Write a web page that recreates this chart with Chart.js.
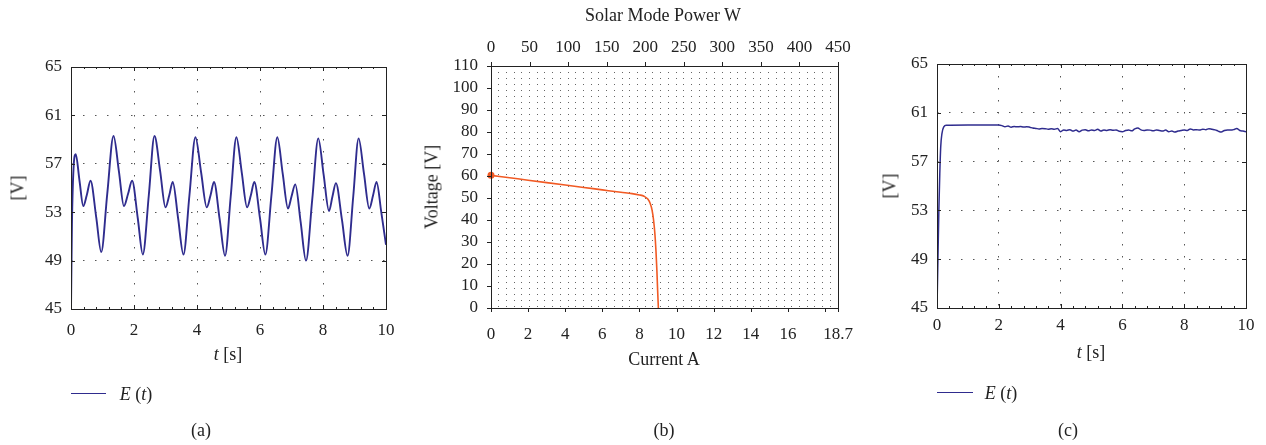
<!DOCTYPE html>
<html>
<head>
<meta charset="utf-8">
<script src="https://cdn.jsdelivr.net/npm/chart.js@4.4.1/dist/chart.umd.min.js"></script>
<style>
  body { margin: 0; background: #fff; }
  #page { position: relative; width: 1266px; height: 445px; overflow: hidden; font-family: 'Liberation Serif', serif; color: #222; }
  canvas { position: absolute; top: 0; }
  .txt { position: absolute; font-size: 18px; white-space: nowrap; transform: translate(-50%, -50%); }
  .rot { transform: translate(-50%, -50%) rotate(-90deg); }
  .key { position: absolute; height: 0; border-top: 1.5px solid #2f2c8e; }
</style>
</head>
<body>
<div id="page">
  <canvas id="chartA" width="420" height="445" style="left:0px"></canvas>
  <canvas id="chartB" width="450" height="445" style="left:410px"></canvas>
  <canvas id="chartC" width="406" height="445" style="left:860px"></canvas>

  <div class="txt rot" style="left:18px; top:188px">[V]</div>
  <div class="txt" style="left:228px; top:354px"><i>t</i> [s]</div>
  <div class="key" style="left:71px; top:393px; width:35px"></div>
  <div class="txt" style="left:136px; top:394px"><i>E</i> (<i>t</i>)</div>
  <div class="txt" style="left:201px; top:430px">(a)</div>

  <div class="txt" style="left:663px; top:15px">Solar Mode Power W</div>
  <div class="txt rot" style="left:432px; top:187px">Voltage [V]</div>
  <div class="txt" style="left:664px; top:359px">Current A</div>
  <div class="txt" style="left:664px; top:430px">(b)</div>

  <div class="txt rot" style="left:890px; top:186px">[V]</div>
  <div class="txt" style="left:1091px; top:352px"><i>t</i> [s]</div>
  <div class="key" style="left:937px; top:392px; width:36px"></div>
  <div class="txt" style="left:1001px; top:393px"><i>E</i> (<i>t</i>)</div>
  <div class="txt" style="left:1068px; top:430px">(c)</div>
</div>
<script>
// (a) E(t) with oscillation
const aTime = [0, 0.03, 0.08, 0.15, 0.27, 0.39, 0.5, 0.62, 0.8, 0.96, 1.15, 1.35, 1.52, 1.68, 1.81, 1.94,
  2.12, 2.28, 2.47, 2.65, 2.83, 3.0, 3.12, 3.23, 3.4, 3.57, 3.76, 3.95, 4.13, 4.31, 4.43, 4.54,
  4.72, 4.89, 5.07, 5.25, 5.42, 5.59, 5.71, 5.82, 6.0, 6.17, 6.36, 6.55, 6.72, 6.89, 7.0, 7.12,
  7.29, 7.46, 7.66, 7.85, 8.02, 8.19, 8.3, 8.41, 8.6, 8.78, 8.96, 9.13, 9.3, 9.47, 9.59, 9.7, 9.85, 10];
const aVolt = [45, 52, 56.6, 57.8, 55.6, 53.5, 54.4, 55.6, 52.6, 49.7, 54.5, 59.3, 56.4, 53.5, 54.5, 55.6,
  52.5, 49.5, 54.4, 59.3, 56.4, 53.4, 54.4, 55.5, 52.5, 49.5, 54.4, 59.2, 56.3, 53.4, 54.4, 55.5,
  52.4, 49.4, 54.3, 59.2, 56.3, 53.4, 54.4, 55.5, 52.5, 49.5, 54.3, 59.2, 56.2, 53.3, 54.3, 55.3,
  52.2, 49.0, 54.1, 59.1, 56.1, 53.1, 54.3, 55.4, 52.4, 49.4, 54.3, 59.1, 56.2, 53.3, 54.4, 55.5, 53.0, 50.3];
const aTicksX = [0, 2, 4, 6, 8, 10];
const aTicksY = [45, 49, 53, 57, 61, 65];

// (b) solar I-V curve
const bCurrent = [0, 1, 2, 3, 4, 5, 6, 7, 7.6, 8.0, 8.25, 8.45, 8.58, 8.68, 8.76, 8.83, 8.89, 8.94, 8.98, 9.02];
const bVoltage = [60.3, 59.2, 58.1, 57.0, 55.9, 54.8, 53.7, 52.6, 52.0, 51.4, 50.8, 49.5, 47.5, 44.5, 40, 34, 26, 17, 8, 0];
const bTicksX = [0, 2, 4, 6, 8, 10, 12, 14, 16, 18, 18.7];
const bTicksPower = [0, 50, 100, 150, 200, 250, 300, 350, 400, 450];
const bTicksY = [0, 10, 20, 30, 40, 50, 60, 70, 80, 90, 100, 110];

// (c) E(t) regulated
const cTime = [0, 0.03, 0.06, 0.09, 0.12, 0.16, 0.22, 0.3, 1.0, 2.0,
  2.1, 2.2, 2.3, 2.4, 2.5, 2.6, 2.7, 2.8, 2.9, 3.0, 3.1, 3.2, 3.3, 3.4, 3.5, 3.6, 3.7, 3.8, 3.9, 4.0,
  4.1, 4.2, 4.3, 4.4, 4.5, 4.6, 4.7, 4.8, 4.9, 5.0, 5.1, 5.2, 5.3, 5.4, 5.5, 5.6, 5.7, 5.8, 5.9, 6.0,
  6.1, 6.2, 6.3, 6.4, 6.5, 6.6, 6.7, 6.8, 6.9, 7.0, 7.1, 7.2, 7.3, 7.4, 7.5, 7.6, 7.7, 7.8, 7.9, 8.0,
  8.1, 8.2, 8.3, 8.4, 8.5, 8.6, 8.7, 8.8, 8.9, 9.0, 9.1, 9.2, 9.3, 9.4, 9.5, 9.6, 9.7, 9.8, 9.9, 10];
const cVolt = [45, 49, 53, 56, 58.2, 59.3, 59.85, 59.98, 60, 60,
  59.95, 59.85, 59.92, 59.82, 59.88, 59.85, 59.87, 59.83, 59.86, 59.82, 59.75, 59.72, 59.68, 59.72, 59.7, 59.66, 59.7, 59.65, 59.72, 59.45,
  59.6, 59.55, 59.62, 59.5, 59.58, 59.45, 59.58, 59.62, 59.52, 59.6, 59.55, 59.65, 59.5, 59.6, 59.55, 59.62, 59.56, 59.6, 59.48, 59.45,
  59.55, 59.6, 59.52, 59.68, 59.75, 59.6, 59.55, 59.6, 59.58, 59.52, 59.6, 59.55, 59.5, 59.58, 59.45, 59.5, 59.42, 59.5, 59.55, 59.6,
  59.55, 59.68, 59.6, 59.62, 59.58, 59.66, 59.62, 59.7, 59.65, 59.6, 59.5, 59.42, 59.55, 59.6, 59.58, 59.62, 59.72, 59.55, 59.5, 59.45];

const FONT = { family: 'Liberation Serif', size: 17 };
const INK = '#222';
const BLUE = '#2f2c8e';
const ORANGE = '#f15a24';

// box around the plot plus matlab style tick marks
const frame = {
  id: 'frame',
  afterDraw(chart, args, opts) {
    const { ctx, chartArea: a } = chart;
    ctx.save();
    ctx.strokeStyle = INK;
    ctx.lineWidth = 1;
    ctx.strokeRect(a.left + 0.5, a.top + 0.5, a.right - a.left, a.bottom - a.top);
    for (const m of opts.marks || []) {
      const s = chart.scales[m.scale];
      const d = m.out ? m.len : -m.len;
      for (const v of m.values) {
        const p = Math.round(s.getPixelForValue(v)) + 0.5;
        ctx.beginPath();
        for (const e of m.edges) {
          if (e === 'bottom') { ctx.moveTo(p, a.bottom); ctx.lineTo(p, a.bottom + d); }
          if (e === 'top') { ctx.moveTo(p, a.top); ctx.lineTo(p, a.top - d); }
          if (e === 'left') { ctx.moveTo(a.left, p); ctx.lineTo(a.left - d, p); }
          if (e === 'right') { ctx.moveTo(a.right, p); ctx.lineTo(a.right + d, p); }
        }
        ctx.stroke();
      }
    }
    ctx.restore();
  }
};

// fixed axis sizes so the plot boxes land where the figure has them
function fixW(w) { return s => { s.width = w; s.paddingTop = 0; s.paddingBottom = 0; }; }
function fixH(h) { return s => { s.height = h; s.paddingLeft = 0; s.paddingRight = 0; }; }
function pts(xs, ys) { return xs.map((x, i) => ({ x: x, y: ys[i] })); }

const minorT = [];
for (let i = 0; i <= 25; i++) minorT.push(i * 0.4);

function timeChart(id, xs, ys, yAxisW, pad, xPad, lw) {
  return new Chart(document.getElementById(id), {
    type: 'line',
    data: {
      datasets: [{
        data: pts(xs, ys),
        borderColor: BLUE,
        borderWidth: lw,
        pointRadius: 0,
        cubicInterpolationMode: 'monotone',
        fill: false
      }]
    },
    options: {
      responsive: false,
      animation: false,
      devicePixelRatio: 1,
      layout: { padding: pad },
      plugins: {
        legend: { display: false },
        tooltip: { enabled: false },
        frame: {
          marks: [
            { scale: 'x', values: aTicksX, len: 4, edges: ['bottom', 'top'] },
            { scale: 'x', values: minorT, len: 2, edges: ['bottom', 'top'] },
            { scale: 'y', values: aTicksY, len: 4, edges: ['left', 'right'] }
          ]
        }
      },
      scales: {
        x: {
          type: 'linear', min: 0, max: 10,
          afterFit: fixH(40),
          ticks: { stepSize: 2, font: FONT, color: INK, padding: xPad, maxRotation: 0 },
          grid: { color: '#555', drawTicks: false },
          border: { display: false, dash: [1.5, 10.5] }
        },
        y: {
          min: 45, max: 65,
          afterFit: fixW(yAxisW),
          ticks: { stepSize: 4, font: FONT, color: INK, padding: 9 },
          grid: { color: '#555', drawTicks: false },
          border: { display: false, dash: [1.5, 10.5] }
        }
      }
    },
    plugins: [frame]
  });
}

timeChart('chartA', aTime, aVolt, 71, { left: 0, right: 34, top: 67, bottom: 96 }, 11, 1.9);
timeChart('chartC', cTime, cVolt, 77, { left: 0, right: 20, top: 64, bottom: 97 }, 7, 1.5);

new Chart(document.getElementById('chartB'), {
  type: 'line',
  data: {
    datasets: [{
      data: pts(bCurrent, bVoltage),
      borderColor: ORANGE,
      backgroundColor: ORANGE,
      borderWidth: 1.6,
      pointRadius: c => c.dataIndex === 0 ? 3.5 : 0,
      pointBorderWidth: 0,
      cubicInterpolationMode: 'monotone',
      clip: false,
      fill: false
    }]
  },
  options: {
    responsive: false,
    animation: false,
    devicePixelRatio: 1,
    layout: { padding: { left: 0, right: 22, top: 26, bottom: 97 } },
    plugins: {
      legend: { display: false },
      tooltip: { enabled: false },
      frame: {
        marks: [
          { scale: 'x', values: bTicksX, len: 4, out: true, edges: ['bottom'] },
          { scale: 'x2', values: bTicksPower, len: 4, out: true, edges: ['top'] },
          { scale: 'y', values: bTicksY, len: 4, out: true, edges: ['left'] }
        ]
      }
    },
    scales: {
      x: {
        type: 'linear', position: 'bottom', min: 0, max: 18.7,
        afterFit: fixH(40),
        afterBuildTicks: s => { s.ticks = bTicksX.map(v => ({ value: v })); },
        ticks: { font: FONT, color: INK, padding: 16, maxRotation: 0, autoSkip: false,
          callback: v => v === 18 ? '' : String(v) },
        grid: { display: false, drawTicks: false },
        border: { display: false }
      },
      x2: {
        type: 'linear', position: 'top', min: 0, max: 450,
        afterFit: fixH(40),
        ticks: { stepSize: 10, font: FONT, color: INK, padding: 8, maxRotation: 0, autoSkip: false,
          callback: v => v % 50 === 0 ? String(v) : '' },
        grid: { color: '#666', drawTicks: false },
        border: { display: false, dash: [1, 5] }
      },
      y: {
        min: 0, max: 110,
        afterFit: fixW(81),
        afterBuildTicks: s => { s.ticks = bTicksY.map(v => ({ value: v })); },
        ticks: { font: FONT, color: INK, padding: 13, autoSkip: false },
        grid: { display: false, drawTicks: false },
        border: { display: false }
      }
    }
  },
  plugins: [frame]
});
</script>
</body>
</html>
